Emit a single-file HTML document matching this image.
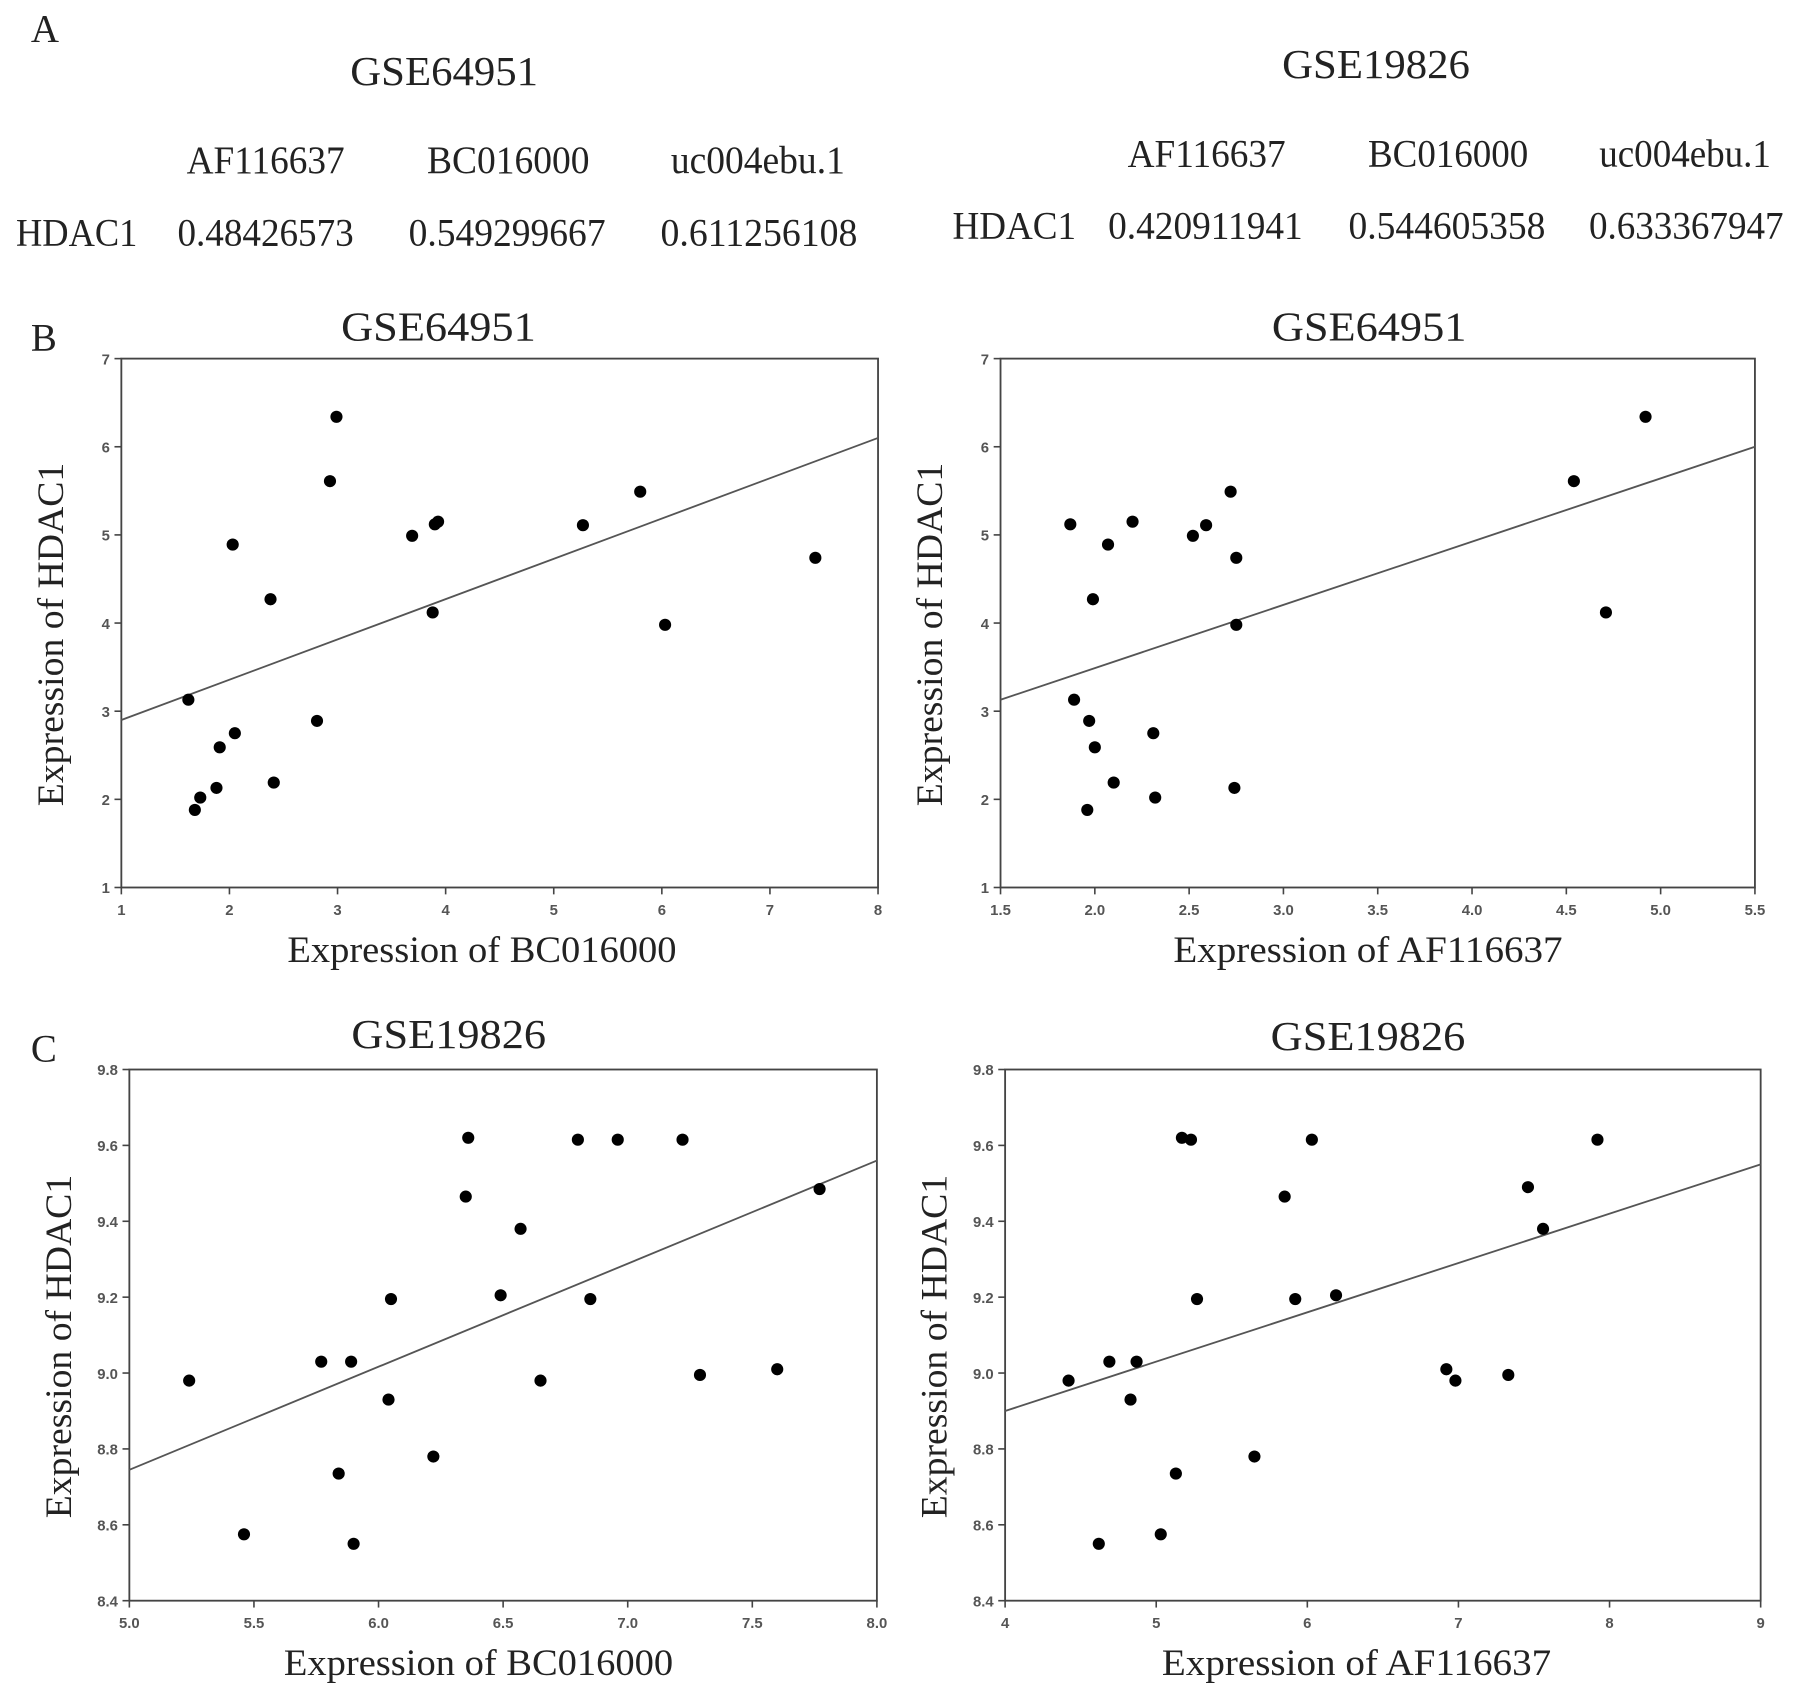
<!DOCTYPE html>
<html><head><meta charset="utf-8"><style>
html,body{margin:0;padding:0;background:#fff;}
svg{display:block;}
.serif{font-family:"Liberation Serif",serif;fill:#222;}
.tick{font-family:"Liberation Sans",sans-serif;font-size:13px;font-weight:bold;fill:#555;}
</style></head><body>
<svg id="fig" width="1795" height="1696" viewBox="0 0 1568 1481" xmlns="http://www.w3.org/2000/svg">
<g>
<text class="serif" x="27" y="36" font-size="34">A</text>
<text class="serif" x="306" y="74" font-size="36" textLength="164" lengthAdjust="spacingAndGlyphs">GSE64951</text>
<text class="serif" x="163" y="151" font-size="34" textLength="138" lengthAdjust="spacingAndGlyphs">AF116637</text>
<text class="serif" x="373" y="151" font-size="34" textLength="142" lengthAdjust="spacingAndGlyphs">BC016000</text>
<text class="serif" x="586" y="151" font-size="34" textLength="152" lengthAdjust="spacingAndGlyphs">uc004ebu.1</text>
<text class="serif" x="14" y="214" font-size="34" textLength="106" lengthAdjust="spacingAndGlyphs">HDAC1</text>
<text class="serif" x="155" y="214" font-size="34" textLength="154" lengthAdjust="spacingAndGlyphs">0.48426573</text>
<text class="serif" x="357" y="214" font-size="34" textLength="172" lengthAdjust="spacingAndGlyphs">0.549299667</text>
<text class="serif" x="577" y="214" font-size="34" textLength="172" lengthAdjust="spacingAndGlyphs">0.611256108</text>

<text class="serif" x="1120" y="68" font-size="36" textLength="164" lengthAdjust="spacingAndGlyphs">GSE19826</text>
<text class="serif" x="985" y="145" font-size="34" textLength="138" lengthAdjust="spacingAndGlyphs">AF116637</text>
<text class="serif" x="1195" y="145" font-size="34" textLength="140" lengthAdjust="spacingAndGlyphs">BC016000</text>
<text class="serif" x="1397" y="145" font-size="34" textLength="150" lengthAdjust="spacingAndGlyphs">uc004ebu.1</text>
<text class="serif" x="832" y="208" font-size="34" textLength="108" lengthAdjust="spacingAndGlyphs">HDAC1</text>
<text class="serif" x="968" y="208" font-size="34" textLength="170" lengthAdjust="spacingAndGlyphs">0.420911941</text>
<text class="serif" x="1178" y="208" font-size="34" textLength="172" lengthAdjust="spacingAndGlyphs">0.544605358</text>
<text class="serif" x="1388" y="208" font-size="34" textLength="170" lengthAdjust="spacingAndGlyphs">0.633367947</text>
</g>
<text class="serif" x="27" y="306" font-size="34">B</text>
<text class="serif" x="27" y="927" font-size="34">C</text>
</svg>
<script>
// Panel B left: BC016000 vs HDAC1 (GSE64951)
const bLeftX = [1.62,1.68,1.73,1.88,1.91,2.05,2.03,2.38,2.41,2.81,2.93,2.99,3.69,3.88,3.90,3.93,5.27,5.80,6.03,7.42];
const bLeftY = [3.13,1.88,2.02,2.13,2.59,2.75,4.89,4.27,2.19,2.89,5.61,6.34,4.99,4.12,5.12,5.15,5.11,5.49,3.98,4.74];
const bLeftFit = [2.9, 6.1];
const bLeftXTicks = ["1","2","3","4","5","6","7","8"];
const bLeftYTicks = ["1","2","3","4","5","6","7"];
// Panel B right: AF116637 vs HDAC1 (GSE64951)
const bRightX = [1.87,1.89,1.96,1.97,1.99,2.00,2.07,2.10,2.20,2.31,2.32,2.52,2.59,2.72,2.74,2.75,2.75,4.54,4.71,4.92];
const bRightY = [5.12,3.13,1.88,2.89,4.27,2.59,4.89,2.19,5.15,2.75,2.02,4.99,5.11,5.49,2.13,4.74,3.98,5.61,4.12,6.34];
const bRightFit = [3.13, 6.0];
const bRightXTicks = ["1.5","2.0","2.5","3.0","3.5","4.0","4.5","5.0","5.5"];
const bRightYTicks = ["1","2","3","4","5","6","7"];
// Panel C left: BC016000 vs HDAC1 (GSE19826)
const cLeftX = [5.24,5.46,5.77,5.84,5.89,5.90,6.04,6.05,6.22,6.35,6.36,6.49,6.57,6.65,6.80,6.85,6.96,7.22,7.29,7.60,7.77];
const cLeftY = [8.98,8.575,9.03,8.735,9.03,8.55,8.93,9.195,8.78,9.465,9.62,9.205,9.38,8.98,9.615,9.195,9.615,9.615,8.995,9.01,9.485];
const cLeftFit = [8.745, 9.56];
const cLeftXTicks = ["5.0","5.5","6.0","6.5","7.0","7.5","8.0"];
const cLeftYTicks = ["8.4","8.6","8.8","9.0","9.2","9.4","9.6","9.8"];
// Panel C right: AF116637 vs HDAC1 (GSE19826)
const cRightX = [4.42,4.69,4.87,4.83,4.62,5.03,5.13,5.17,5.23,5.27,5.65,5.85,5.92,6.03,6.19,6.92,6.98,7.33,7.46,7.56,7.92];
const cRightY = [8.98,9.03,9.03,8.93,8.55,8.575,8.735,9.62,9.615,9.195,8.78,9.465,9.195,9.615,9.205,9.01,8.98,8.995,9.49,9.38,9.615];
const cRightFit = [8.9, 9.55];
const cRightXTicks = ["4","5","6","7","8","9"];
const cRightYTicks = ["8.4","8.6","8.8","9.0","9.2","9.4","9.6","9.8"];

const NS = "http://www.w3.org/2000/svg";
const svg = document.getElementById("fig");
function mk(tag, attrs, parent){
  const e = document.createElementNS(NS, tag);
  for (const k in attrs) e.setAttribute(k, attrs[k]);
  (parent||svg).appendChild(e);
  return e;
}
function panel(id, box, xt, yt, xs, ys, fit, title, xlabel, titleX, titleY, xlabX){
  const [L,R,T,B] = box;
  const x0 = parseFloat(xt[0]), x1 = parseFloat(xt[xt.length-1]);
  const y0 = parseFloat(yt[0]), y1 = parseFloat(yt[yt.length-1]);
  const sx = v => L + (v - x0) / (x1 - x0) * (R - L);
  const sy = v => B - (v - y0) / (y1 - y0) * (B - T);
  const g = mk("g", {});
  
  
  const t = mk("text", {x:titleX, y:titleY, "text-anchor":"middle", class:"serif", "font-size":36, textLength:170, lengthAdjust:"spacingAndGlyphs"}, g);
  t.textContent = title;
  
  
  const frame = mk("rect", {x:L, y:T, width:R-L, height:B-T, fill:"none", stroke:"#444", "stroke-width":1.6}, g);
  
  
  xt.forEach(s => {
    const v = parseFloat(s);
    mk("line", {x1:sx(v), x2:sx(v), y1:B, y2:B+6, stroke:"#444", "stroke-width":1.4}, g);
    const tx = mk("text", {x:sx(v), y:B+24, "text-anchor":"middle", class:"tick"}, g);
    tx.textContent = s;
    
    
  });
  yt.forEach(s => {
    const v = parseFloat(s);
    mk("line", {x1:L-6, x2:L, y1:sy(v), y2:sy(v), stroke:"#444", "stroke-width":1.4}, g);
    const ty = mk("text", {x:L-10, y:sy(v)+5, "text-anchor":"end", class:"tick"}, g);
    ty.textContent = s;
    
    
  });
  const xl = mk("text", {x:xlabX, y:B+65, "text-anchor":"middle", class:"serif", "font-size":32, textLength:340, lengthAdjust:"spacingAndGlyphs"}, g);
  xl.textContent = xlabel;
  
  
  const cy = (T+B)/2 + 10;
  const yl = mk("text", {x:0, y:0, "text-anchor":"middle", class:"serif", "font-size":32, textLength:300, lengthAdjust:"spacingAndGlyphs", transform:`translate(${L-51},${cy}) rotate(-90)`}, g);
  yl.textContent = "Expression of HDAC1";
  
  
  const ln = mk("line", {x1:sx(x0), y1:sy(fit[0]), x2:sx(x1), y2:sy(fit[1]), stroke:"#555", "stroke-width":1.6}, g);
  
  
  xs.forEach((xv, i) => {
    const c = mk("circle", {cx:sx(xv), cy:sy(ys[i]), r:5.3, fill:"#000"}, g);
    
    
  });
}
panel("scatter-b-left", [106,767,313,775], bLeftXTicks, bLeftYTicks, bLeftX, bLeftY, bLeftFit, "GSE64951", "Expression of BC016000", 383, 297, 421);
panel("scatter-b-right", [874,1533,313,775], bRightXTicks, bRightYTicks, bRightX, bRightY, bRightFit, "GSE64951", "Expression of AF116637", 1196, 297, 1195);
panel("scatter-c-left", [113,766,934,1398], cLeftXTicks, cLeftYTicks, cLeftX, cLeftY, cLeftFit, "GSE19826", "Expression of BC016000", 392, 915, 418);
panel("scatter-c-right", [878,1538,934,1398], cRightXTicks, cRightYTicks, cRightX, cRightY, cRightFit, "GSE19826", "Expression of AF116637", 1195, 917, 1185);
</script>
</body></html>
